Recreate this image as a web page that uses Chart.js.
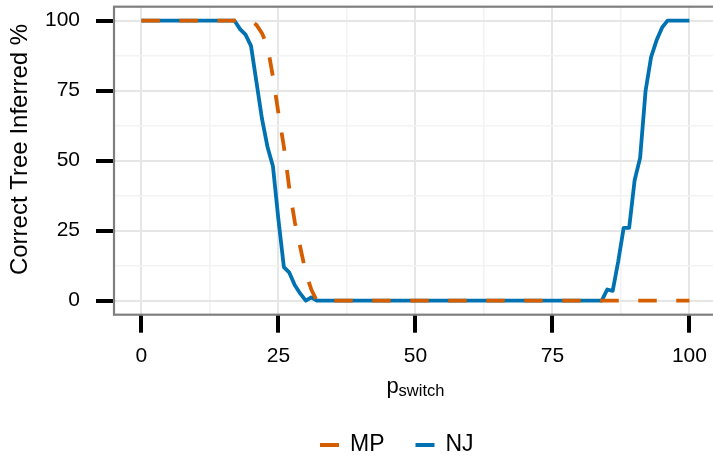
<!DOCTYPE html>
<html>
<head>
<meta charset="utf-8">
<script src="https://cdn.jsdelivr.net/npm/chart.js@4/dist/chart.umd.min.js"></script>
<style>
  html, body { margin: 0; padding: 0; background: #fff; }
</style>
</head>
<body>
<canvas id="myChart" width="713" height="456"></canvas>
<script>
const pSwitch = [
  0, 1, 2, 3, 4, 5, 6, 7, 8, 9,
  10, 11, 12, 13, 14, 15, 16, 17, 18, 19,
  20, 21, 22, 23, 24, 25, 26, 27, 28, 29,
  30, 31, 32, 33, 34, 35, 36, 37, 38, 39,
  40, 41, 42, 43, 44, 45, 46, 47, 48, 49,
  50, 51, 52, 53, 54, 55, 56, 57, 58, 59,
  60, 61, 62, 63, 64, 65, 66, 67, 68, 69,
  70, 71, 72, 73, 74, 75, 76, 77, 78, 79,
  80, 81, 82, 83, 84, 85, 86, 87, 88, 89,
  90, 91, 92, 93, 94, 95, 96, 97, 98, 99,
  100,
];

const mpCorrect = [
  100, 100, 100, 100, 100, 100, 100, 100, 100, 100,
  100, 100, 100, 100, 100, 100, 100, 100, 100, 100,
  100, 98.5, 95.5, 91, 80, 67, 55, 40, 28, 19,
  10, 4, 0, 0, 0, 0, 0, 0, 0, 0,
  0, 0, 0, 0, 0, 0, 0, 0, 0, 0,
  0, 0, 0, 0, 0, 0, 0, 0, 0, 0,
  0, 0, 0, 0, 0, 0, 0, 0, 0, 0,
  0, 0, 0, 0, 0, 0, 0, 0, 0, 0,
  0, 0, 0, 0, 0, 0, 0, 0, 0, 0,
  0, 0, 0, 0, 0, 0, 0, 0, 0, 0,
  0,
];

const njCorrect = [
  100, 100, 100, 100, 100, 100, 100, 100, 100, 100,
  100, 100, 100, 100, 100, 100, 100, 100, 97, 95,
  91, 78, 65, 55, 48, 29, 12, 10, 5.5, 2.5,
  0, 1.2, 0, 0, 0, 0, 0, 0, 0, 0,
  0, 0, 0, 0, 0, 0, 0, 0, 0, 0,
  0, 0, 0, 0, 0, 0, 0, 0, 0, 0,
  0, 0, 0, 0, 0, 0, 0, 0, 0, 0,
  0, 0, 0, 0, 0, 0, 0, 0, 0, 0,
  0, 0, 0, 0, 0, 4, 3.5, 14, 26, 26,
  43, 51, 75, 87, 93, 97.5, 100, 100, 100, 100,
  100,
];

// major ticks every 25, minor grid lines in between
const gridTicks = [0, 12.5, 25, 37.5, 50, 62.5, 75, 87.5, 100];

const FONT = '"Liberation Sans", Arial, Helvetica, sans-serif';
const isMajor = (v) => v % 25 === 0;

const gridOpts = {
  color: (c) => (c.tick && isMajor(c.tick.value) ? "#e6e6e6" : "#f3f3f3"),
  lineWidth: (c) => (c.tick && isMajor(c.tick.value) ? 2 : 1.6),
  tickColor: (c) => (c.tick && isMajor(c.tick.value) ? "#000" : "rgba(0,0,0,0)"),
  tickWidth: 4,
  tickLength: 18,
};

// panel border, axis titles, legend
const panelExtras = {
  id: "panelExtras",
  afterDraw(chart) {
    const { ctx, chartArea: a } = chart;
    const xs = chart.scales.x;
    const panelRight = xs.getPixelForValue(105);
    ctx.save();

    ctx.strokeStyle = "#7f7f7f";
    ctx.lineWidth = 2.2;
    ctx.strokeRect(a.left, a.top, panelRight - a.left, a.bottom - a.top);

    // y axis title
    ctx.fillStyle = "#000";
    ctx.save();
    ctx.translate(20, 149.5);
    ctx.rotate(-Math.PI / 2);
    ctx.font = "24px " + FONT;
    ctx.textAlign = "center";
    ctx.textBaseline = "middle";
    ctx.fillText("Correct Tree Inferred %", 0, 0);
    ctx.restore();

    // x axis title: p_switch
    const mid = (a.left + panelRight) / 2;
    ctx.textBaseline = "alphabetic";
    ctx.font = "22px " + FONT;
    const pW = ctx.measureText("p").width;
    ctx.font = "16.5px " + FONT;
    const sW = ctx.measureText("switch").width;
    const x0 = mid - (pW + sW) / 2;
    ctx.font = "22px " + FONT;
    ctx.fillText("p", x0, 392.5);
    ctx.font = "16.5px " + FONT;
    ctx.fillText("switch", x0 + pW, 396);

    // legend
    ctx.font = "23px " + FONT;
    ctx.textBaseline = "middle";
    let lx = 320;
    const ly = 445;
    chart.data.datasets.forEach((ds) => {
      ctx.fillStyle = ds.borderColor;
      ctx.fillRect(lx, ly - 2, 19, 4);
      lx += 30;
      ctx.fillStyle = "#000";
      ctx.fillText(ds.label, lx, ly);
      lx += ctx.measureText(ds.label).width + 31;
    });

    ctx.restore();
  },
};

new Chart(document.getElementById("myChart"), {
  type: "line",
  data: {
    datasets: [
      {
        label: "MP",
        data: pSwitch.map((x, i) => ({ x, y: mpCorrect[i] })),
        borderColor: "#D55E00",
        borderWidth: 3.8,
        borderDash: [18.5, 19.5],
        borderJoinStyle: "round",
        pointRadius: 0,
        tension: 0,
      },
      {
        label: "NJ",
        data: pSwitch.map((x, i) => ({ x, y: njCorrect[i] })),
        borderColor: "#0072B2",
        borderWidth: 3.8,
        borderJoinStyle: "round",
        pointRadius: 0,
        tension: 0,
      },
    ],
  },
  options: {
    responsive: false,
    animation: false,
    layout: { padding: { top: 6.7, left: 0, right: 0, bottom: 0 } },
    plugins: {
      legend: { display: false },
      tooltip: { enabled: false },
    },
    scales: {
      x: {
        type: "linear",
        min: -5,
        max: 104.3,
        afterBuildTicks: (s) => {
          s.ticks = gridTicks.map((value) => ({ value }));
        },
        afterFit: (s) => {
          s.height = 141.3;
          s.paddingLeft = 0;
          s.paddingRight = 0;
        },
        border: { display: false },
        grid: gridOpts,
        ticks: {
          callback: (v) => (isMajor(v) ? String(v) : ""),
          font: { size: 21, family: FONT },
          color: "#000",
          padding: 11,
          maxRotation: 0,
          autoSkip: false,
        },
      },
      y: {
        min: -5,
        max: 105,
        afterBuildTicks: (s) => {
          s.ticks = gridTicks.map((value) => ({ value }));
        },
        afterFit: (s) => {
          s.width = 114;
          s.paddingTop = 0;
          s.paddingBottom = 0;
        },
        border: { display: false },
        grid: gridOpts,
        ticks: {
          callback: (v) => (isMajor(v) ? String(v) : ""),
          font: { size: 21, family: FONT },
          color: "#000",
          padding: 16,
          autoSkip: false,
        },
      },
    },
  },
  plugins: [panelExtras],
});
</script>
</body>
</html>
